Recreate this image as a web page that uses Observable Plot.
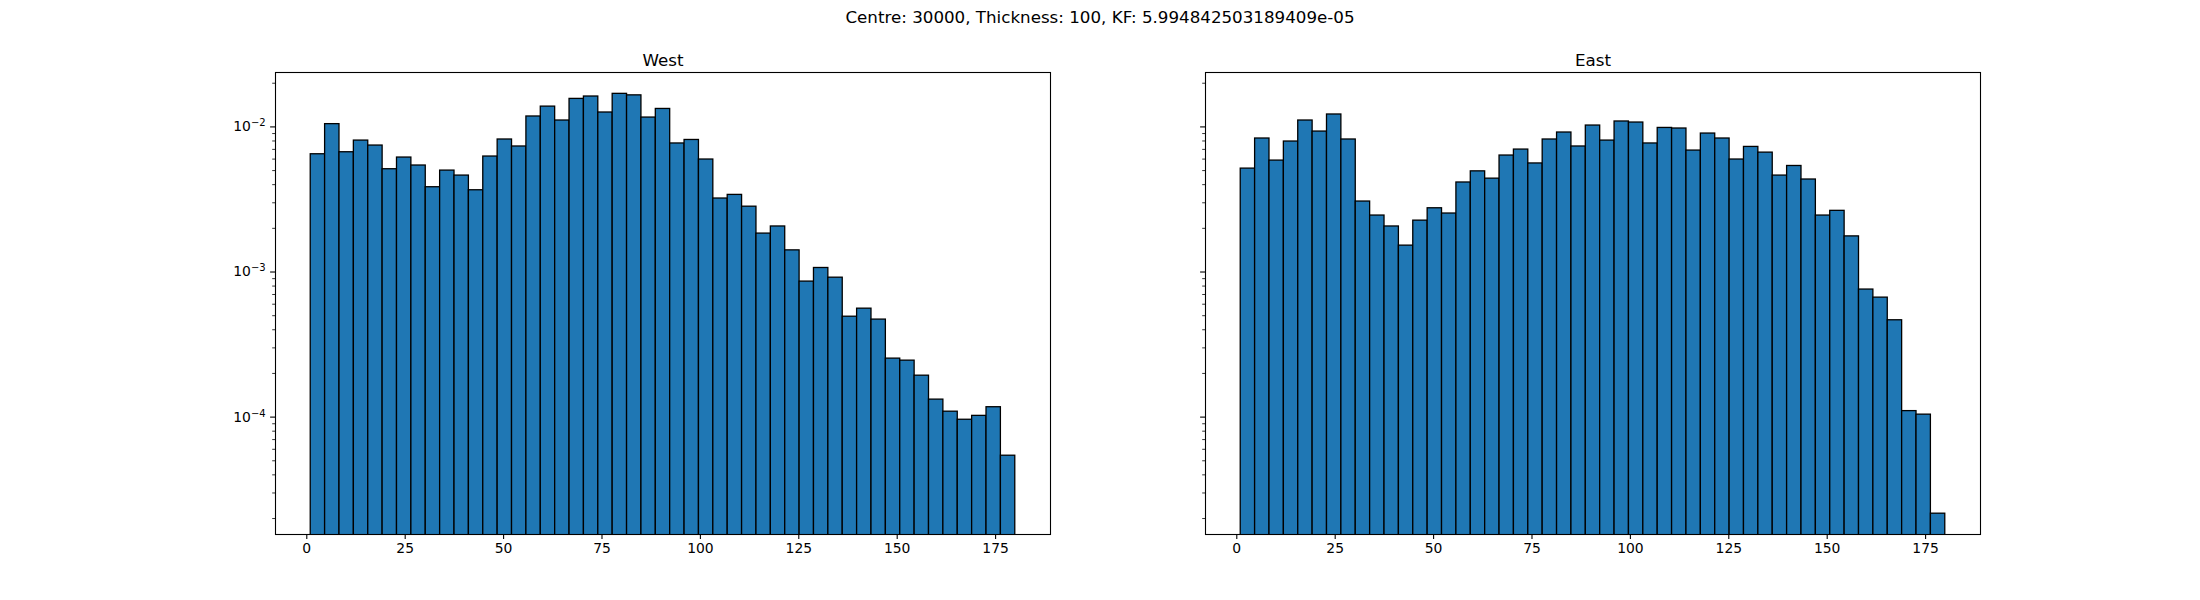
<!DOCTYPE html>
<html><head><meta charset="utf-8">
<script src="https://cdn.jsdelivr.net/npm/d3@7"></script>
<script src="https://cdn.jsdelivr.net/npm/@observablehq/plot@0.6"></script>
<style>
body{margin:0;background:#fff;}
#fig{position:relative;width:2200px;height:600px;font-family:"DejaVu Sans",sans-serif;background:#fff;overflow:hidden;}
#suptitle{position:absolute;left:0;width:2200px;top:9px;text-align:center;font-size:16.7px;line-height:16.7px;color:#000;}
.panel{position:absolute;top:0;}
</style></head><body>
<div id="fig"><div id="suptitle"></div></div>
<script>
const suptitle = "Centre: 30000, Thickness: 100, KF: 5.994842503189409e-05";
const panelTitles = ["West", "East"];
const binStart = 1, binEnd = 180, binCount = 49;
const westDensity = [
  6.48e-3, 1.045e-2, 6.69e-3, 8.05e-3, 7.44e-3, 5.11e-3, 6.15e-3, 5.42e-3, 3.84e-3, 5.00e-3,
  4.62e-3, 3.66e-3, 6.25e-3, 8.19e-3, 7.33e-3, 1.18e-2, 1.38e-2, 1.107e-2, 1.56e-2, 1.62e-2,
  1.257e-2, 1.69e-2, 1.65e-2, 1.16e-2, 1.33e-2, 7.69e-3, 8.13e-3, 5.96e-3, 3.21e-3, 3.40e-3,
  2.82e-3, 1.84e-3, 2.06e-3, 1.41e-3, 8.59e-4, 1.066e-3, 9.14e-4, 4.92e-4, 5.59e-4, 4.70e-4,
  2.53e-4, 2.45e-4, 1.93e-4, 1.32e-4, 1.09e-4, 9.59e-5, 1.02e-4, 1.17e-4, 5.42e-5
];
const eastDensity = [
  5.16e-3, 8.32e-3, 5.86e-3, 7.93e-3, 1.107e-2, 9.29e-3, 1.218e-2, 8.19e-3, 3.06e-3, 2.45e-3,
  2.06e-3, 1.52e-3, 2.26e-3, 2.75e-3, 2.53e-3, 4.14e-3, 4.94e-3, 4.40e-3, 6.35e-3, 6.98e-3,
  5.60e-3, 8.19e-3, 9.15e-3, 7.33e-3, 1.022e-2, 8.05e-3, 1.09e-2, 1.072e-2, 7.69e-3, 9.84e-3,
  9.75e-3, 6.87e-3, 9.00e-3, 8.32e-3, 5.96e-3, 7.28e-3, 6.65e-3, 4.62e-3, 5.38e-3, 4.34e-3,
  2.45e-3, 2.64e-3, 1.76e-3, 7.57e-4, 6.66e-4, 4.65e-4, 1.10e-4, 1.04e-4, 2.16e-5
];
const xTicks = [0, 25, 50, 75, 100, 125, 150, 175];
const yMajorTicks = [1e-4, 1e-3, 1e-2];
const yMinorTicks = [2e-5, 3e-5, 4e-5, 5e-5, 6e-5, 7e-5, 8e-5, 9e-5,
  2e-4, 3e-4, 4e-4, 5e-4, 6e-4, 7e-4, 8e-4, 9e-4,
  2e-3, 3e-3, 4e-3, 5e-3, 6e-3, 7e-3, 8e-3, 9e-3, 2e-2];

document.getElementById("suptitle").textContent = suptitle;

const xDomain = [-7.95, 188.95];
const yDomain = [Math.pow(10, -4.809), Math.pow(10, -1.625)];
const yFloor = 1e-7;
const binWidth = (binEnd - binStart) / binCount;

function makePanel(values, title, showYLabels, left, ml, mr) {
  const bins = values.map((v, i) => ({
    x1: binStart + i * binWidth, x2: binStart + (i + 1) * binWidth, y1: yFloor, y2: v
  }));
  const plot = Plot.plot({
    width: 1100, height: 600,
    marginLeft: ml, marginRight: mr, marginTop: 72, marginBottom: 66,
    x: {domain: xDomain},
    y: {type: "log", domain: yDomain},
    style: {fontFamily: "DejaVu Sans, sans-serif", fontSize: "13.9px", color: "#000", background: "transparent", overflow: "visible"},
    marks: [
      Plot.rectY(bins, {x1: "x1", x2: "x2", y1: "y1", y2: "y2", fill: "#1f77b4", stroke: "#000", strokeWidth: 1.3, clip: true}),
      Plot.axisX({ticks: xTicks, tickSize: 4.9, tickPadding: 4.2, label: null, tickFormat: d => String(d), strokeWidth: 1.1}),
      Plot.axisY({ticks: yMinorTicks, tickSize: 2.8, tickFormat: () => "", label: null, strokeWidth: 0.8}),
      Plot.axisY({ticks: yMajorTicks, tickSize: 4.9, tickPadding: 4.9, label: null, strokeWidth: 1.1,
        tickFormat: showYLabels ? (d => "10^" + Math.round(Math.log10(d))) : () => ""}),
      Plot.frame({stroke: "#000", strokeWidth: 1.1}),
      Plot.text([title], {frameAnchor: "top", dy: -18, fontSize: 16.7, text: d => d, fill: "#000"})
    ]
  });
  plot.classList.add("panel");
  plot.style.left = left + "px";
  document.getElementById("fig").appendChild(plot);
  // render log tick labels as 10 with a superscript exponent
  d3.select(plot).selectAll("text").each(function () {
    const t = this.textContent;
    if (/^10\^-?\d+$/.test(t)) {
      const exp = t.split("^")[1].replace("-", "\u2212");
      const sel = d3.select(this);
      sel.text(null);
      sel.append("tspan").text("10");
      sel.append("tspan").attr("dy", "-0.5em").attr("font-size", "0.72em").text(exp);
    }
  });
}

makePanel(westDensity, panelTitles[0], true, 0, 275, 50);
makePanel(eastDensity, panelTitles[1], false, 1100, 105, 220);
</script>
</body></html>
